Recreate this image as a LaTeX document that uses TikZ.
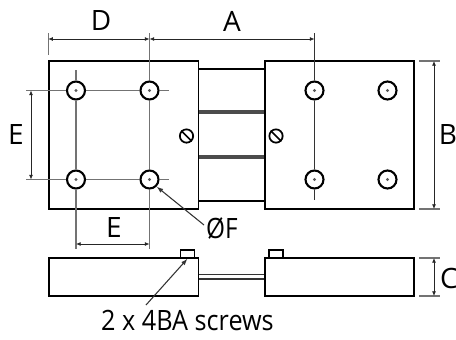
\documentclass[tikz,border=0pt]{standalone}
\usepackage{fontspec}
\setmainfont{Open Sans}
\usetikzlibrary{arrows.meta}
\usetikzlibrary{positioning}

\begin{document}
\begin{tikzpicture}[
    x=0.75pt, y=-0.75pt,
    platenode/.style={rectangle, draw=black, line width=1.3pt, fill=white, inner sep=0pt, minimum width=112pt, minimum height=111pt},
    sidenode/.style={rectangle, draw=black, line width=1.2pt, fill=white, inner sep=0pt, minimum width=112pt, minimum height=28.5pt},
    capnode/.style={rectangle, draw=black, line width=1pt, fill=white, inner sep=0pt, minimum width=10.5pt, minimum height=6pt},
    holenode/.style={circle, draw=black, line width=1.6pt, fill=white, inner sep=0pt, minimum size=13.5pt},
    slotnode/.style={circle, draw=black, line width=1.3pt, fill=white, inner sep=0pt, minimum size=10pt},
    labelnode/.style={inner sep=0pt, font=\fontsize{21}{21}\selectfont},
    dimline/.style={{Latex[length=3.5pt,width=3pt]}-{Latex[length=3.5pt,width=3pt]}, line width=0.6pt, black!85},
    guideline/.style={line width=0.8pt, black!55},
    ]
    \useasboundingbox (0,0) rectangle (456,339);

    %Plates
    \node[platenode] (leftplate)  at (123.75,135) {};
    \node[platenode] (rightplate) at (339.5,135)  {};

    %Side view
    \node[capnode]  (leftcap)   at (187.5,254)   {};
    \node[capnode]  (rightcap)  at (276,254)     {};
    \node[sidenode] (leftside)  at (123.75,277)  {};
    \node[sidenode] (rightside) at (339.5,277)   {};

    %Links
    \foreach \y/\w/\c in {69/1.3/100, 112/2.6/70, 157/2.6/70, 201/1.3/100}
        \draw[line width=\w pt, black!\c] (leftplate.east |- 0,\y) -- (rightplate.west |- 0,\y);
    \foreach \y in {274.5, 279}
        \draw[line width=0.9pt, black!80] (leftside.east |- 0,\y) -- (rightside.west |- 0,\y);

    %Holes
    \node[holenode] (holeA) at (76,90.5)    {};
    \node[holenode] (holeB) at (149.5,90.5) {};
    \node[holenode] (holeC) at (76,179.5)   {};
    \node[holenode] (holeD) at (149.5,179.5){};
    \node[holenode] (holeE) at (314.5,90.5) {};
    \node[holenode] (holeF) at (387.5,90.5) {};
    \node[holenode] (holeG) at (314.5,179.5){};
    \node[holenode] (holeH) at (387.5,179.5){};

    %Guide lines
    \coordinate (topd) at (0,33);
    \coordinate (leftb) at (26,0);
    \coordinate (rightb) at (169,0);
    \coordinate (lowe) at (0,249);
    \draw[guideline] (leftplate.west |- topd) -- (leftplate.west |- 0,55);
    \draw[guideline] (holeB.center |- topd) -- (holeB.north);
    \draw[guideline] (holeB.south) -- (holeD.north);
    \draw[guideline] (holeD.south) -- (holeD.center |- lowe);
    \draw[guideline] (holeA.center |- 0,70) -- (holeA.north);
    \draw[guideline] (holeA.south) -- (holeC.north);
    \draw[guideline] (holeC.south) -- (holeC.center |- lowe);
    \draw[guideline] (leftb |- holeA) -- (holeA.west);
    \draw[guideline] (holeA.east) -- (holeB.west);
    \draw[guideline] (holeB.east) -- (rightb |- holeB);
    \draw[guideline] (leftb |- holeC) -- (holeC.west);
    \draw[guideline] (holeC.east) -- (holeD.west);
    \draw[guideline] (holeD.east) -- (rightb |- holeD);
    \draw[line width=0.7pt, black!80] (holeE.center |- topd) -- (holeE.north);
    \draw[line width=0.7pt, black!80] (holeE.south) -- (holeG.north);
    \draw[line width=0.7pt, black!80] (holeG.south) -- (holeG.center |- 0,200);
    \foreach \y in {61,209,258,296}
        \draw[guideline] (419,\y) -- (440,\y);

    %Hole centres
    \foreach \h in {holeA,holeB,holeC,holeD,holeE,holeF,holeG,holeH} {
        \fill[black!65] (\h.center) circle (1.6);
    }

    %Slotted screws
    \node[slotnode] (leftslot)  at (186.5,136) {};
    \node[slotnode] (rightslot) at (276,136)   {};
    \draw[line width=1.2pt] (leftslot.135) -- (leftslot.-45);
    \draw[line width=1.2pt] (rightslot.135) -- (rightslot.-45);

    %Dimensions
    \draw[dimline] (leftplate.west |- 0,39) -- (holeB.center |- 0,39);
    \draw[dimline] (holeB.center |- 0,39) -- (holeE.center |- 0,39);
    \draw[dimline] (31,90.5) -- (31,179.5);
    \draw[dimline] (holeC.center |- 0,244) -- (holeD.center |- 0,244);
    \draw[dimline] (434,61) -- (434,209);
    \draw[dimline] (434,258) -- (434,296);

    %Labels
    \node[labelnode] (labelD) at (101,21)    {D};
    \node[labelnode] (labelA) at (232,21)    {A};
    \node[labelnode] (labelB) at (448,135)   {B};
    \node[labelnode] (labelC) at (449,278)   {C};
    \node[labelnode] (labelEl) at (16,135)   {E};
    \node[labelnode] (labelEb) at (114,228)  {E};
    \node[labelnode, anchor=west, xscale=0.87] (labelF) at (206,228) {ØF};
    \node[labelnode, anchor=west, xscale=0.9] (labelS) at (101,320) {2 x 4BA screws};

    %Leaders
    \draw[-{Latex[length=5pt,width=3.5pt]}, line width=0.8pt, black!80] (204,225) -- (holeD.-45);
    \draw[-{Latex[length=5pt,width=3.5pt]}, line width=0.8pt, black!80] (146,305) -- (leftcap.south);

\end{tikzpicture}
\end{document}
